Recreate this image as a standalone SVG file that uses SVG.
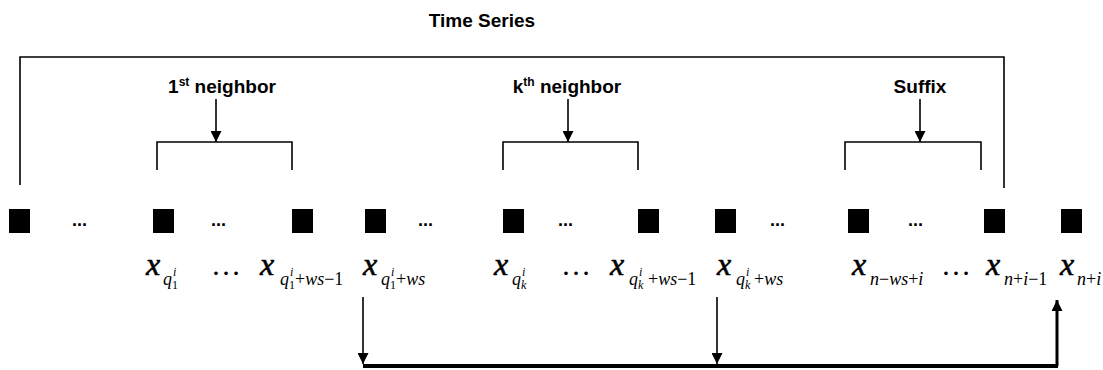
<svg xmlns="http://www.w3.org/2000/svg" width="1103" height="370" viewBox="0 0 1103 370">
<defs>
<style>
.lbl{font-family:"Liberation Sans",Arial,sans-serif;font-weight:bold;font-size:19px;fill:#000;text-anchor:middle}
.sup{font-size:12px}
.dots{font-family:"Liberation Sans",Arial,sans-serif;font-weight:bold;font-size:18px;fill:#000}
.mx{font-family:"Liberation Serif","Times New Roman",serif;font-style:italic;font-size:32px;fill:#000;stroke:#000;stroke-width:0.6}
.ms{font-family:"Liberation Serif","Times New Roman",serif;font-style:italic;font-size:18px;fill:#000}
.mr{font-family:"Liberation Serif","Times New Roman",serif;font-style:normal;font-size:18px;fill:#000}
.mss{font-family:"Liberation Serif","Times New Roman",serif;font-style:italic;font-size:12px;fill:#000}
.mssr{font-family:"Liberation Serif","Times New Roman",serif;font-style:normal;font-size:12px;fill:#000}
.mell{font-family:"Liberation Serif","Times New Roman",serif;font-size:30px;fill:#000}
.br{fill:none;stroke:#000;stroke-width:1.6}
.sq{fill:#000}
.ar{stroke:#000;stroke-width:1.6;fill:none}
</style>
<marker id="ah" viewBox="0 0 10 10" refX="10" refY="5" markerWidth="12" markerHeight="11" markerUnits="userSpaceOnUse" orient="auto">
<path d="M0,0 L10,5 L0,10 Z" fill="#000"/>
</marker>
<marker id="ahb" viewBox="0 0 10 10" refX="10" refY="5" markerWidth="13" markerHeight="11" markerUnits="userSpaceOnUse" orient="auto">
<path d="M0,0 L10,5 L0,10 Z" fill="#000"/>
</marker>
</defs>

<g id="title"><text class="lbl" x="482" y="27">Time Series</text></g>

<g id="series-bracket"><path class="br" d="M20,185 V57 H1004 V188" stroke-width="2"/></g>

<g id="neighbor1">
<text class="lbl" x="222" y="93">1<tspan class="sup" dy="-7">st</tspan><tspan dy="7"> neighbor</tspan></text>
<path class="br" d="M157,170 V142 H292 V170"/>
</g>
<g id="neighbork">
<text class="lbl" x="567" y="93">k<tspan class="sup" dy="-7">th</tspan><tspan dy="7"> neighbor</tspan></text>
<path class="br" d="M503,170 V142 H638 V170"/>
</g>
<g id="suffix">
<text class="lbl" x="920" y="93">Suffix</text>
<path class="br" d="M845,170 V142 H981 V170"/>
</g>

<g id="squares">
<rect class="sq" x="9" y="209" width="21" height="24"/>
<rect class="sq" x="153" y="209" width="21" height="24"/>
<rect class="sq" x="292" y="209" width="21" height="24"/>
<rect class="sq" x="365" y="209" width="21" height="24"/>
<rect class="sq" x="503" y="209" width="21" height="24"/>
<rect class="sq" x="638" y="209" width="21" height="24"/>
<rect class="sq" x="715" y="209" width="21" height="24"/>
<rect class="sq" x="848" y="209" width="21" height="24"/>
<rect class="sq" x="984" y="209" width="21" height="24"/>
<rect class="sq" x="1061" y="209" width="21" height="24"/>
<text class="dots" x="72" y="226">...</text>
<text class="dots" x="211" y="226">...</text>
<text class="dots" x="418" y="226">...</text>
<text class="dots" x="558" y="226">...</text>
<text class="dots" x="770" y="226">...</text>
<text class="dots" x="908" y="226">...</text>
</g>

<g id="labels">
<text class="mx" x="146" y="275">x</text><text class="ms" x="163" y="285">q</text><text class="mss" x="173" y="276">i</text><text class="mssr" x="172" y="289">1</text>
<text class="mell" x="211" y="275">…</text>
<text class="mx" x="260" y="275">x</text><text class="ms" x="280" y="285">q</text><text class="mss" x="290" y="276">i</text><text class="mssr" x="289" y="289">1</text><text class="mr" x="295" y="285">+<tspan class="ms">ws</tspan>−1</text>
<text class="mx" x="363" y="275">x</text><text class="ms" x="381" y="285">q</text><text class="mss" x="391" y="276">i</text><text class="mssr" x="390" y="289">1</text><text class="mr" x="396" y="285">+<tspan class="ms">ws</tspan></text>
<text class="mx" x="494" y="275">x</text><text class="ms" x="512" y="285">q</text><text class="mss" x="522" y="276">i</text><text class="mss" x="521" y="289">k</text>
<text class="mell" x="561" y="275">…</text>
<text class="mx" x="610" y="275">x</text><text class="ms" x="629" y="285">q</text><text class="mss" x="639" y="276">i</text><text class="mss" x="638" y="289">k</text><text class="mr" x="648" y="285">+<tspan class="ms">ws</tspan>−1</text>
<text class="mx" x="717" y="275">x</text><text class="ms" x="736" y="285">q</text><text class="mss" x="746" y="276">i</text><text class="mss" x="745" y="289">k</text><text class="mr" x="754" y="285">+<tspan class="ms">ws</tspan></text>
<text class="mx" x="852" y="275">x</text><text class="ms" x="870" y="285">n<tspan class="mr">−</tspan>ws<tspan class="mr">+</tspan>i</text>
<text class="mell" x="941" y="275">…</text>
<text class="mx" x="986" y="275">x</text><text class="ms" x="1004" y="285">n<tspan class="mr">+</tspan>i<tspan class="mr">−1</tspan></text>
<text class="mx" x="1060" y="275">x</text><text class="ms" x="1077" y="285">n<tspan class="mr">+</tspan>i</text>
</g>

<g id="connectors">
<line class="ar" x1="216" y1="99" x2="216" y2="142" marker-end="url(#ah)"/>
<line class="ar" x1="568" y1="99" x2="568" y2="142" marker-end="url(#ah)"/>
<line class="ar" x1="920" y1="99" x2="920" y2="142" marker-end="url(#ah)"/>
<line class="ar" x1="363" y1="297" x2="363" y2="364" marker-end="url(#ah)"/>
<line class="ar" x1="717" y1="297" x2="717" y2="364" marker-end="url(#ah)"/>
<line x1="363" y1="366" x2="1058" y2="366" stroke="#000" stroke-width="4"/>
<line x1="1057" y1="366" x2="1057" y2="300" stroke="#000" stroke-width="3" marker-end="url(#ahb)"/>
</g>
</svg>
